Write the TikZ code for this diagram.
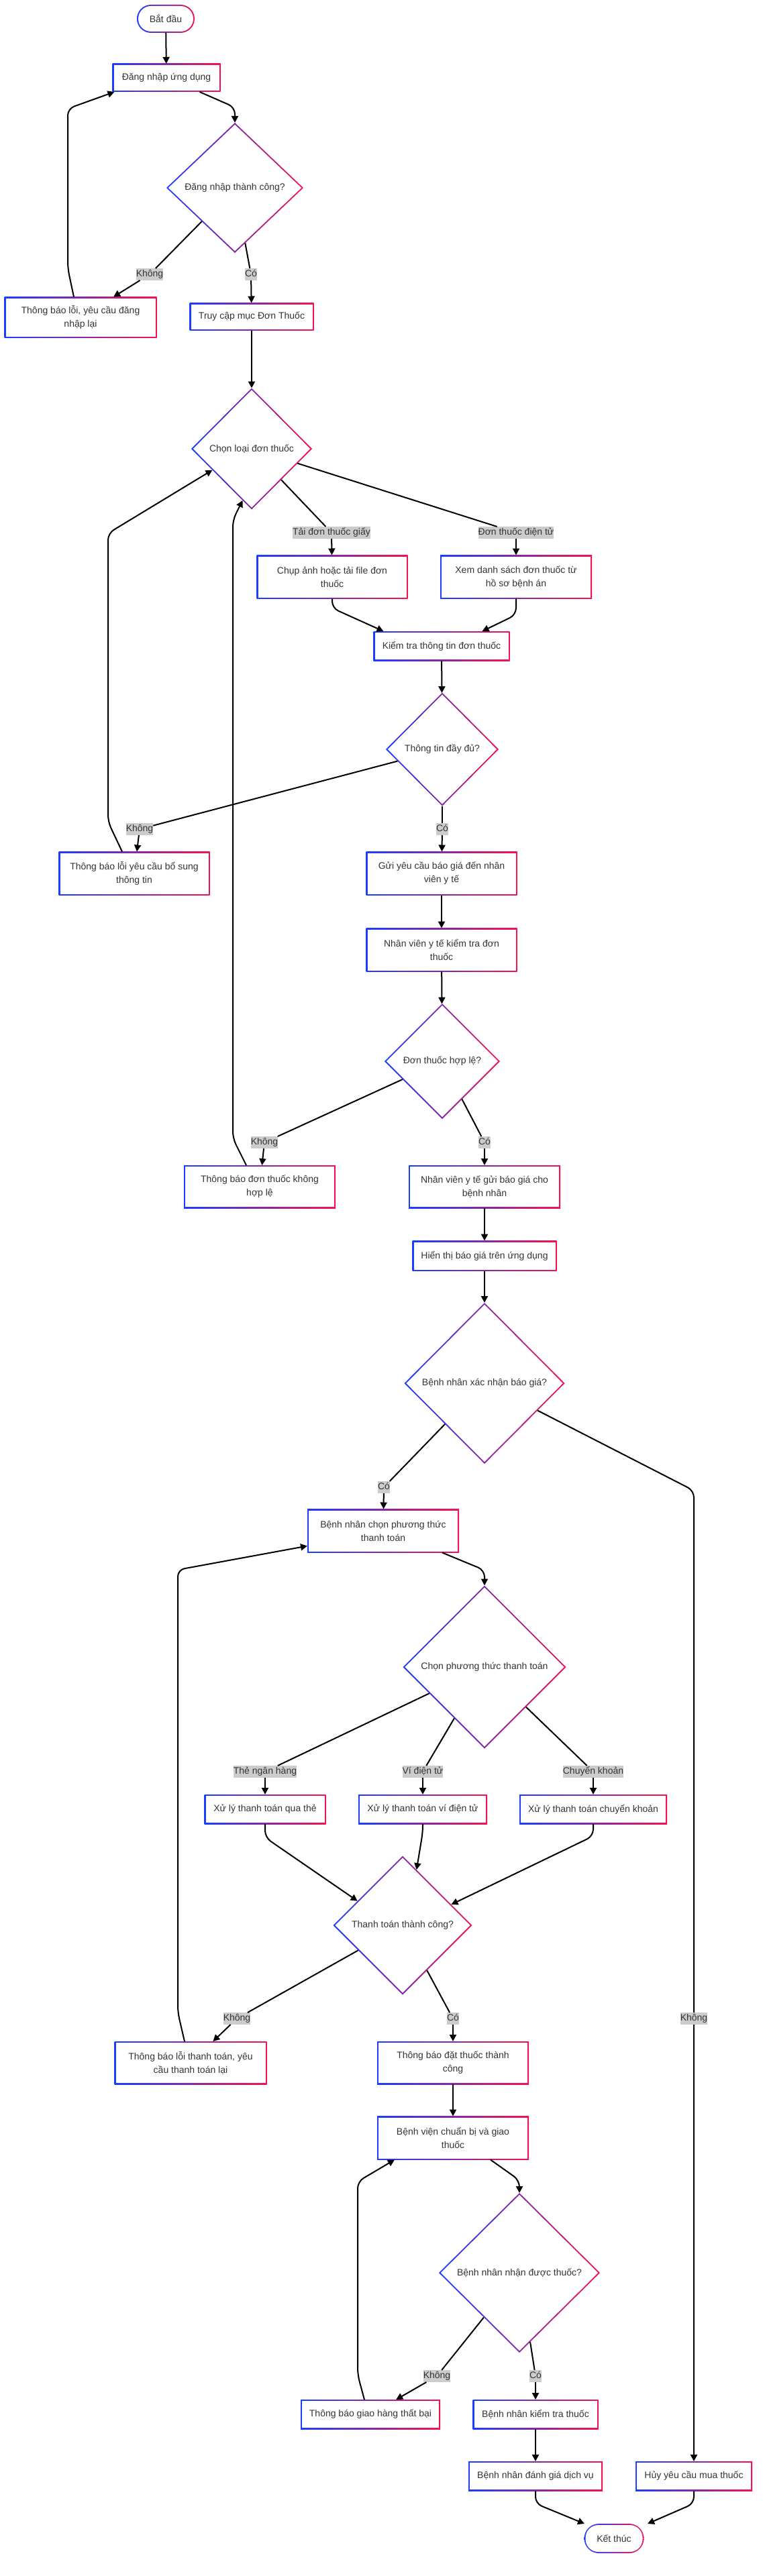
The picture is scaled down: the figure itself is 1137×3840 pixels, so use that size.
\documentclass[tikz,border=0pt]{standalone}
\usepackage{fontspec}
\setmainfont{Liberation Sans}
\usetikzlibrary{shapes.geometric, shapes.misc, arrows.meta, calc}
\definecolor{vienxanh}{HTML}{1A3DFF}
\definecolor{vientim}{HTML}{8A2BA2}
\definecolor{viendo}{HTML}{F5124F}
\definecolor{chu}{HTML}{333333}
\definecolor{nhan}{HTML}{CCCCCC}
\tikzset{
    >={Triangle[length=10pt, width=10pt]}, % dau mui ten tam giac dac
    every node/.style={text=chu, font=\fontsize{14}{20}\selectfont, outer sep=0pt},
    buoc/.style={rectangle, inner sep=0pt, align=center,
        path picture={
            \shade[left color=vienxanh, middle color=vientim, right color=viendo]
                (path picture bounding box.south west) rectangle (path picture bounding box.north east);
            \fill[white] ([shift={(2pt,2pt)}]path picture bounding box.south west)
                rectangle ([shift={(-2pt,-2pt)}]path picture bounding box.north east);
        }}, % hop chu nhat, vien chuyen mau
    hoi/.style={diamond, aspect=1, inner sep=0pt, align=center,
        path picture={
            \shade[left color=vienxanh, middle color=vientim, right color=viendo]
                (path picture bounding box.south west) rectangle (path picture bounding box.north east);
            \fill[white] ([yshift=-2.8pt]path picture bounding box.north)
                -- ([xshift=-2.8pt]path picture bounding box.east)
                -- ([yshift=2.8pt]path picture bounding box.south)
                -- ([xshift=2.8pt]path picture bounding box.west) -- cycle;
        }}, % o quyet dinh
    mocdau/.style={rounded rectangle, inner sep=0pt, minimum height=42pt,
        path picture={
            \shade[left color=vienxanh, middle color=vientim, right color=viendo]
                (path picture bounding box.south west) rectangle (path picture bounding box.north east);
            \fill[white, rounded corners=19pt] ([shift={(2pt,2pt)}]path picture bounding box.south west)
                rectangle ([shift={(-2pt,-2pt)}]path picture bounding box.north east);
        }}, % bat dau / ket thuc
    nhan/.style={fill=nhan, inner xsep=0pt, inner ysep=2pt, text height=10.5pt, text depth=3.5pt}, % nhan tren mui ten
    luong/.style={line width=2pt, rounded corners=10pt} % duong noi
}

\begin{document}
\begin{tikzpicture}[x=1pt, y=1pt]
    \useasboundingbox (0,0) rectangle (1137,-3840);

    % Cac buoc
    \node[mocdau, minimum width=86pt] (BD) at (247,-28) {Bắt đầu};
    \node[buoc, minimum width=161pt, minimum height=42pt] (DN) at (248,-116) {Đăng nhập ứng dụng};
    \node[hoi, minimum width=204pt, minimum height=194pt] (DNTC) at (350,-280) {Đăng nhập thành công?};
    \node[buoc, minimum width=227pt, minimum height=61pt] (TBDN) at (120,-473) {Thông báo lỗi, yêu cầu đăng\\nhập lại};
    \node[buoc, minimum width=185pt, minimum height=41pt] (TC) at (375,-472) {Truy cập mục Đơn Thuốc};
    \node[hoi, minimum width=180pt, minimum height=181pt] (CL) at (375,-669) {Chọn loại đơn thuốc};
    \node[buoc, minimum width=225pt, minimum height=65pt] (CA) at (495,-860) {Chụp ảnh hoặc tải file đơn\\thuốc};
    \node[buoc, minimum width=226pt, minimum height=65pt] (XDS) at (769,-860) {Xem danh sách đơn thuốc từ\\hồ sơ bệnh án};
    \node[buoc, minimum width=203pt, minimum height=44pt] (KTDT) at (658,-963) {Kiểm tra thông tin đơn thuốc};
    \node[hoi, minimum width=168pt, minimum height=169pt] (TTDD) at (659,-1117) {Thông tin đầy đủ?};
    \node[buoc, minimum width=225pt, minimum height=65pt] (TBBS) at (200,-1302) {Thông báo lỗi yêu cầu bổ sung\\thông tin};
    \node[buoc, minimum width=225pt, minimum height=65pt] (GYC) at (658,-1302) {Gửi yêu cầu báo giá đến nhân\\viên y tế};
    \node[buoc, minimum width=225pt, minimum height=65pt] (NVKT) at (658,-1416) {Nhân viên y tế kiểm tra đơn\\thuốc};
    \node[hoi, minimum width=172pt, minimum height=172pt] (DTHL) at (659,-1582) {Đơn thuốc hợp lệ?};
    \node[buoc, minimum width=226pt, minimum height=64pt] (TBKHL) at (387,-1769) {Thông báo đơn thuốc không\\hợp lệ};
    \node[buoc, minimum width=226pt, minimum height=64pt] (NVBG) at (722,-1769) {Nhân viên y tế gửi báo giá cho\\bệnh nhân};
    \node[buoc, minimum width=215pt, minimum height=45pt] (HT) at (722,-1872) {Hiển thị báo giá trên ứng dụng};
    \node[hoi, minimum width=239pt, minimum height=240pt] (XNBG) at (722,-2062) {Bệnh nhân xác nhận báo giá?};
    \node[buoc, minimum width=226pt, minimum height=65pt] (CPT) at (571,-2282) {Bệnh nhân chọn phương thức\\thanh toán};
    \node[hoi, minimum width=243pt, minimum height=243pt] (PTTT) at (722,-2485) {Chọn phương thức thanh toán};
    \node[buoc, minimum width=181pt, minimum height=44pt] (XLT) at (395,-2697) {Xử lý thanh toán qua thẻ};
    \node[buoc, minimum width=192pt, minimum height=44pt] (XLV) at (630,-2697) {Xử lý thanh toán ví điện tử};
    \node[buoc, minimum width=220pt, minimum height=44pt] (XLCK) at (884,-2697) {Xử lý thanh toán chuyển khoản};
    \node[hoi, minimum width=207pt, minimum height=207pt] (TTTC) at (600,-2870) {Thanh toán thành công?};
    \node[buoc, minimum width=227pt, minimum height=64pt] (TBTT) at (284,-3075) {Thông báo lỗi thanh toán, yêu\\cầu thanh toán lại};
    \node[buoc, minimum width=226pt, minimum height=64pt] (DTTC) at (675,-3075) {Thông báo đặt thuốc thành\\công};
    \node[buoc, minimum width=226pt, minimum height=65pt] (GT) at (675,-3187) {Bệnh viện chuẩn bị và giao\\thuốc};
    \node[hoi, minimum width=240pt, minimum height=238pt] (NDT) at (774,-3388) {Bệnh nhân nhận được thuốc?};
    \node[buoc, minimum width=208pt, minimum height=44pt] (TBGH) at (552,-3599) {Thông báo giao hàng thất bại};
    \node[buoc, minimum width=187pt, minimum height=44pt] (KTT) at (798,-3599) {Bệnh nhân kiểm tra thuốc};
    \node[buoc, minimum width=200pt, minimum height=44pt] (DG) at (798,-3691) {Bệnh nhân đánh giá dịch vụ};
    \node[buoc, minimum width=174pt, minimum height=44pt] (HUY) at (1034,-3691) {Hủy yêu cầu mua thuốc};
    \node[mocdau, minimum width=89pt, minimum height=44pt] (KTH) at (915,-3784) {Kết thúc};

    % Nhan
    \node[nhan] (L1) at (223,-409) {Không};
    \node[nhan] (L2) at (374,-409) {Có};
    \node[nhan] (L3) at (494,-794) {Tải đơn thuốc giấy};
    \node[nhan] (L4) at (769,-794) {Đơn thuốc điện tử};
    \node[nhan] (L5) at (208,-1236) {Không};
    \node[nhan] (L6) at (659,-1236) {Có};
    \node[nhan] (L7) at (394,-1703) {Không};
    \node[nhan] (L8) at (722,-1703) {Có};
    \node[nhan] (L9) at (572,-2217) {Có};
    \node[nhan] (L10) at (1034,-3009) {Không};
    \node[nhan] (L11) at (395,-2641) {Thẻ ngân hàng};
    \node[nhan] (L12) at (630,-2641) {Ví điện tử};
    \node[nhan] (L13) at (884,-2641) {Chuyển khoản};
    \node[nhan] (L14) at (353,-3009) {Không};
    \node[nhan] (L15) at (675,-3009) {Có};
    \node[nhan] (L16) at (651,-3542) {Không};
    \node[nhan] (L17) at (798,-3542) {Có};

    % Luong
    \draw[luong, ->] (BD) -- (DN);
    \draw[luong, ->] ([xshift=-31pt]DN.south east) -- ([yshift=23pt]DNTC.north) -- (DNTC.north);
    \draw[luong] (DNTC) -- (L1);
    \draw[luong, ->] (L1) -- (TBDN);
    \draw[luong] (DNTC) -- (L2);
    \draw[luong, ->] (L2) -- (TC);
    \draw[luong, ->] ([xshift=-10pt]TBDN.north) -- (101,-400) -- (101,-162) -- ([xshift=3pt]DN.south west);
    \draw[luong, ->] (TC) -- (CL);
    \draw[luong] (CL) -- (L3);
    \draw[luong, ->] (L3) -- (CA);
    \draw[luong] (CL) -- (L4);
    \draw[luong, ->] (L4) -- (XDS);
    \draw[luong, ->] (CA.south) -- ++(0,-14) -- ([xshift=15pt]KTDT.north west);
    \draw[luong, ->] (XDS.south) -- ++(0,-24) -- ([xshift=-41pt]KTDT.north east);
    \draw[luong, ->] (KTDT) -- (TTDD);
    \draw[luong] (TTDD) -- (L5);
    \draw[luong, ->] (L5) -- (TBBS);
    \draw[luong] (TTDD) -- (L6);
    \draw[luong, ->] (L6) -- (GYC);
    \draw[luong, ->] ([xshift=-18pt]TBBS.north) -- (161,-1225) -- (161,-795) -- ($(CL.west)!0.35!(CL.south)$);
    \draw[luong, ->] (GYC) -- (NVKT);
    \draw[luong, ->] (NVKT) -- (DTHL);
    \draw[luong] (DTHL) -- (L7);
    \draw[luong, ->] (L7) -- (TBKHL);
    \draw[luong] (DTHL) -- (L8);
    \draw[luong, ->] (L8) -- (NVBG);
    \draw[luong, ->] ([xshift=-20pt]TBKHL.north) -- (347,-1697) -- (347,-775) -- ($(CL.west)!0.85!(CL.south)$);
    \draw[luong, ->] (NVBG) -- (HT);
    \draw[luong, ->] (HT) -- (XNBG);
    \draw[luong] (XNBG) -- (L9);
    \draw[luong, ->] (L9) -- (CPT);
    \draw[luong] (XNBG) -- (1034,-2222) -- (L10);
    \draw[luong, ->] (L10) -- (HUY);
    \draw[luong, ->] ([xshift=-25pt]CPT.south east) -- ([yshift=23pt]PTTT.north) -- (PTTT.north);
    \draw[luong] (PTTT) -- (L11);
    \draw[luong, ->] (L11) -- (XLT);
    \draw[luong] (PTTT) -- (L12);
    \draw[luong, ->] (L12) -- (XLV);
    \draw[luong] (PTTT) -- (L13);
    \draw[luong, ->] (L13) -- (XLCK);
    \draw[luong, ->] (XLT.south) -- ++(0,-20) -- ($(TTTC.west)!0.35!(TTTC.north)$);
    \draw[luong, ->] (XLV.south) -- ++(0,-12) -- ($(TTTC.north)!0.2!(TTTC.east)$);
    \draw[luong, ->] (XLCK.south) -- ++(0,-18) -- ($(TTTC.north)!0.7!(TTTC.east)$);
    \draw[luong] (TTTC) -- (L14);
    \draw[luong, ->] (L14) -- (TBTT);
    \draw[luong] (TTTC) -- (L15);
    \draw[luong, ->] (L15) -- (DTTC);
    \draw[luong, ->] ([xshift=-9pt]TBTT.north) -- (265,-3000) -- (265,-2340) -- ([yshift=10pt]CPT.south west);
    \draw[luong, ->] (DTTC) -- (GT);
    \draw[luong, ->] ([xshift=-57pt]GT.south east) -- ([yshift=19pt]NDT.north) -- (NDT.north);
    \draw[luong] (NDT) -- (L16);
    \draw[luong, ->] (L16) -- (TBGH);
    \draw[luong] (NDT) -- (L17);
    \draw[luong, ->] (L17) -- (KTT);
    \draw[luong, ->] ([xshift=-9pt]TBGH.north) -- (533,-3540) -- (533,-3252) -- ([xshift=26pt]GT.south west);
    \draw[luong, ->] (KTT) -- (DG);
    \draw[luong, ->] (DG.south) -- ++(0,-19) -- ([xshift=-44pt]KTH.north);
    \draw[luong, ->] (HUY.south) -- ++(0,-19) -- ([xshift=50pt]KTH.north);
\end{tikzpicture}
\end{document}
